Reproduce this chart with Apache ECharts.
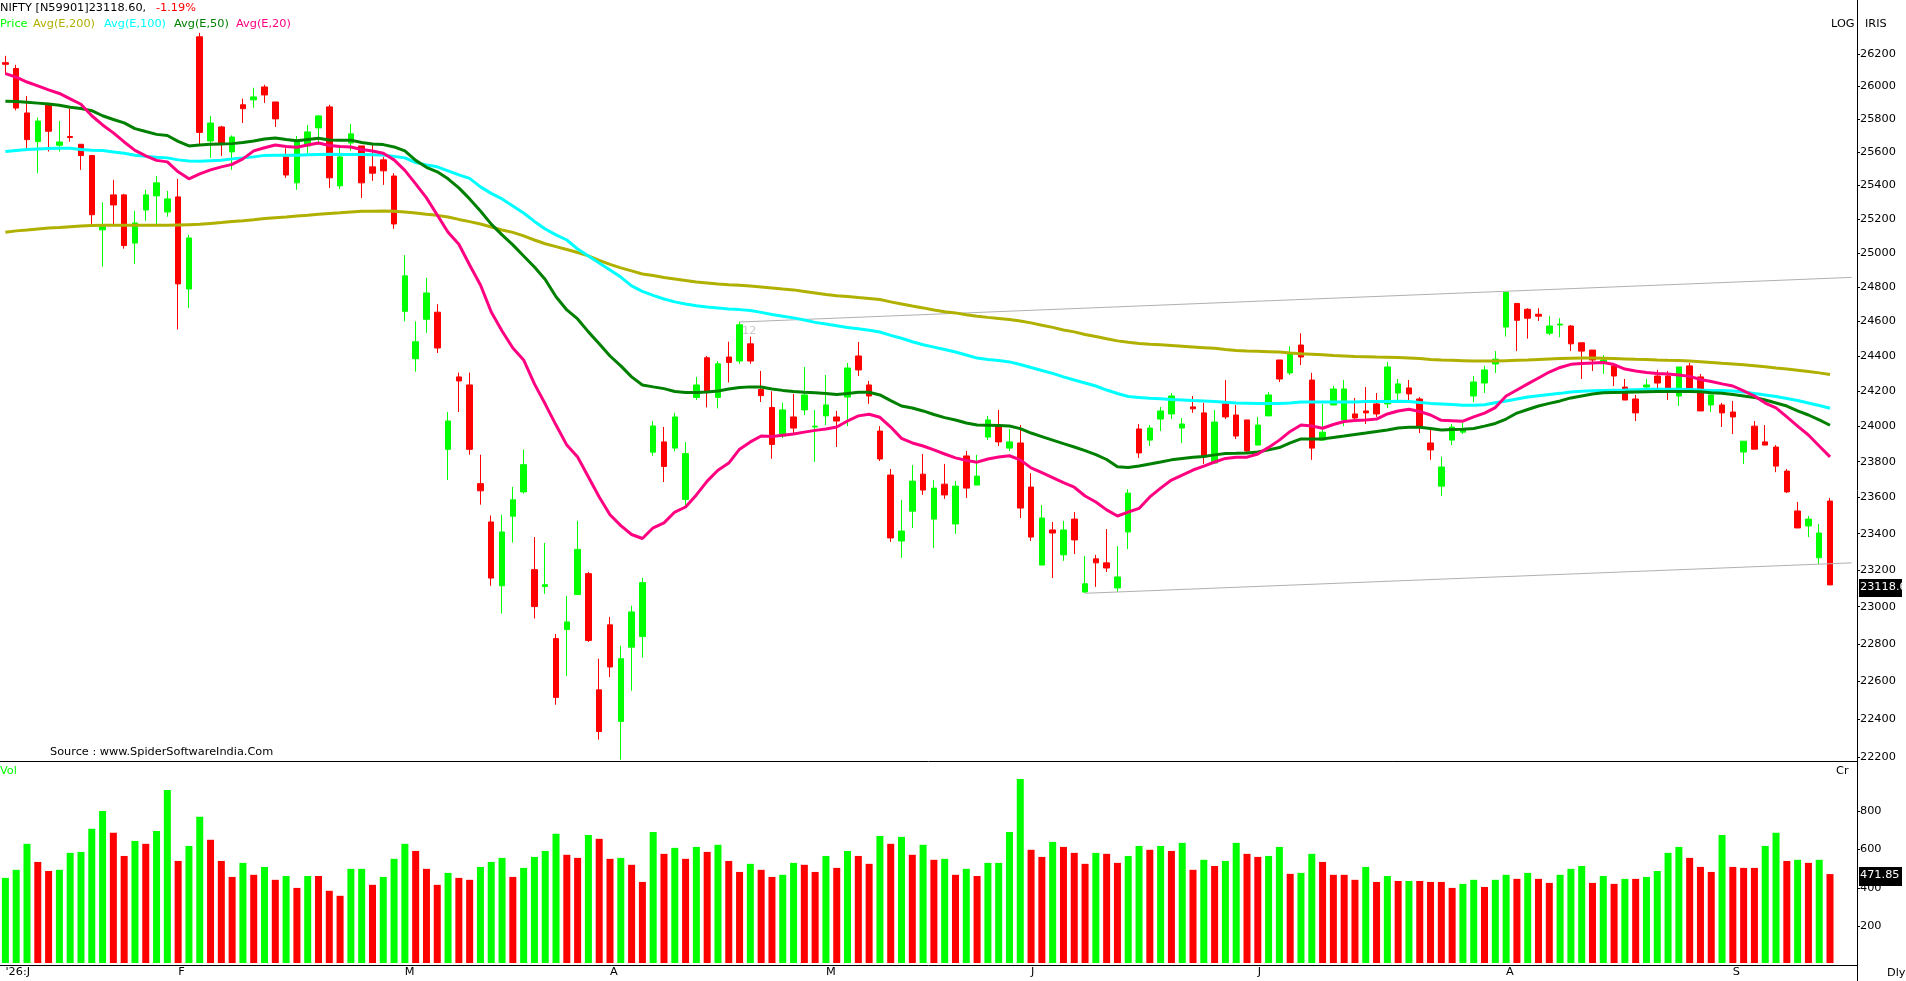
<!DOCTYPE html>
<html>
<head>
<meta charset="utf-8">
<title>NIFTY</title>
<script src="https://cdn.jsdelivr.net/npm/echarts@6/dist/echarts.min.js"></script>
<style>
  html, body { margin: 0; padding: 0; background: #fff; overflow: hidden; }
  #chart { width: 1906px; height: 981px; }
</style>
</head>
<body>
<div id="chart"></div>
<script>
const opens = [
  26146,26110,25838,25664,25888,25642,25695,25648,25580,25136,
  25344,25344,25058,25254,25338,25242,25332,24788,26306,25668,
  25753,25602,25888,25918,25997,25905,25572,25416,25638,25747,
  25875,25398,25656,25638,25512,25554,25457,24658,24384,24612,
  24653,23869,24280,24234,23677,23464,23114,23496,23631,23202,
  23110,22828,22877,23066,23180,22554,22902,22387,22782,22839,
  23853,23911,23876,23589,24163,24390,24163,24394,24371,24470,
  24208,24106,23944,24052,24092,23995,24058,24052,24165,24400,
  24234,23972,23725,23359,23524,23730,23480,23674,23453,23832,
  23669,23938,24006,23876,23905,23658,23227,23420,23283,23480,
  23080,23261,23239,23102,23409,23984,23921,24040,24069,23989,
  24109,24075,23792,24126,24063,24035,23893,24058,24377,24303,
  24463,24262,23921,24120,24035,24069,24086,24126,24126,24188,
  24217,24154,23905,23663,23921,23966,24171,24245,24354,24567,
  24704,24670,24641,24531,24579,24573,24476,24434,24366,24343,
  24222,24154,24222,24285,24285,24171,24343,24280,24120,24120,
  24080,23854,24000,23911,23882,23747,23525,23442,23267,23580
];
const closes = [
  26136,25868,25676,25789,25727,25662,25689,25580,25226,25155,
  25284,25043,25177,25344,25416,25320,24818,25088,25720,25777,
  25648,25692,25864,25936,25948,25802,25463,25662,25723,25820,
  25446,25572,25711,25416,25474,25488,25171,24865,24482,24765,
  24446,24029,24257,23869,23637,23156,23409,23587,23783,23001,
  23120,22514,22918,23313,22818,22334,22676,22720,22972,23131,
  24001,23773,24052,23845,24234,24198,24355,24363,24580,24371,
  24173,23897,24092,23989,24177,24000,24120,24029,24331,24320,
  24171,23815,23376,23414,23691,23641,23652,23614,23663,23652,
  23719,24035,23911,23911,23541,23381,23486,23403,23420,23365,
  23125,23239,23211,23162,23624,23849,23989,24086,24171,24012,
  24098,23827,24023,24052,23944,23860,24006,24177,24268,24417,
  24394,23876,23966,24211,24211,24046,24075,24069,24337,24240,
  24183,24000,23866,23770,23995,23978,24251,24320,24382,24770,
  24606,24618,24630,24573,24584,24470,24428,24377,24377,24285,
  24148,24075,24234,24245,24217,24337,24217,24086,24177,24075,
  24052,23915,23870,23893,23775,23631,23431,23480,23403,23118.6
];
const highs = [
  26188,26133,25942,25810,25899,25789,25864,25648,25580,25300,
  25434,25350,25248,25374,25457,25368,25440,25106,26330,25820,
  25760,25702,25925,25992,26010,25905,25624,25698,25765,25826,
  25888,25632,25771,25638,25644,25572,25474,24987,24600,24853,
  24700,24080,24305,24305,23839,23500,23504,23659,23868,23381,
  23348,22852,23059,23470,23190,22720,22945,22789,23005,23158,
  24029,23995,24075,23911,24280,24400,24371,24482,24598,24512,
  24314,24198,24133,24183,24337,24092,24291,24086,24360,24480,
  24257,24000,23759,23586,23781,23843,23697,23787,23691,23860,
  23838,24058,24092,23984,24006,23736,23558,23464,23470,23519,
  23277,23283,23425,23331,23646,24012,24006,24109,24188,24046,
  24171,24132,24092,24262,24120,24035,24052,24194,24377,24456,
  24531,24303,24126,24228,24262,24160,24222,24188,24366,24268,
  24262,24165,23989,23827,24012,24018,24285,24343,24428,24770,
  24704,24676,24676,24630,24618,24579,24476,24434,24405,24343,
  24268,24177,24268,24320,24314,24337,24360,24297,24177,24132,
  24143,23915,24029,24006,23893,23759,23575,23497,23453,23597
];
const lows = [
  26073,25854,25624,25474,25604,25604,25664,25494,25171,24919,
  25165,25025,24935,25190,25171,25214,24553,24677,25648,25566,
  25578,25494,25777,25870,25899,25753,25446,25374,25590,25644,
  25385,25380,25608,25326,25428,25404,25142,24600,24310,24533,
  24417,23697,24080,23839,23560,23114,22963,23351,23621,22936,
  23070,22475,22628,23065,22810,22291,22622,22186,22549,22726,
  23833,23686,23858,23556,24149,24106,24100,24248,24355,24355,
  24137,23816,23933,23955,24063,23798,24006,23882,24000,24285,
  24126,23803,23354,23266,23431,23614,23320,23592,23398,23597,
  23669,23921,23888,23860,23486,23359,23227,23156,23250,23288,
  23075,23108,23189,23080,23315,23821,23888,23972,24040,23905,
  24075,23787,23792,24040,23927,23849,23893,24058,24251,24291,
  24348,23810,23921,24120,24000,24035,24012,24052,24103,24148,
  24148,23961,23810,23608,23893,23955,24137,24188,24303,24512,
  24428,24500,24602,24520,24508,24428,24268,24314,24297,24228,
  24148,24029,24205,24211,24148,24114,24217,24086,24080,23995,
  23955,23787,23870,23893,23741,23625,23431,23381,23233,23118.6
];

const ema200 = [
  25122,25130,25135,25141,25147,25150,25155,25159,25162,25163,
  25163,25163,25163,25163,25163,25163,25165,25167,25169,25174,
  25179,25185,25190,25196,25204,25208,25212,25218,25222,25228,
  25233,25237,25242,25246,25247,25248,25247,25242,25236,25228,
  25222,25212,25198,25185,25171,25153,25135,25121,25100,25076,
  25054,25037,25020,25002,24982,24956,24932,24912,24894,24876,
  24867,24856,24847,24838,24829,24823,24817,24813,24810,24806,
  24800,24794,24788,24783,24774,24765,24756,24749,24744,24738,
  24733,24727,24713,24701,24689,24678,24666,24656,24649,24638,
  24630,24623,24617,24611,24602,24591,24577,24565,24550,24539,
  24524,24512,24499,24487,24479,24472,24467,24464,24460,24456,
  24452,24448,24444,24437,24431,24428,24427,24425,24423,24417,
  24413,24410,24407,24403,24400,24397,24396,24394,24393,24391,
  24389,24385,24380,24377,24375,24373,24371,24371,24371,24373,
  24375,24377,24380,24383,24385,24387,24389,24389,24387,24385,
  24383,24381,24380,24377,24375,24374,24371,24367,24363,24358,
  24354,24349,24344,24338,24331,24325,24318,24311,24303,24294
];
const ema100 = [
  25604,25610,25616,25620,25622,25624,25624,25616,25612,25610,
  25602,25594,25582,25575,25570,25566,25554,25547,25546,25549,
  25552,25560,25566,25572,25581,25582,25582,25582,25585,25587,
  25588,25587,25586,25586,25585,25584,25575,25566,25538,25524,
  25512,25488,25464,25443,25392,25353,25320,25278,25236,25186,
  25141,25106,25076,25023,24982,24941,24900,24858,24806,24774,
  24751,24730,24713,24701,24691,24683,24678,24672,24668,24663,
  24652,24640,24630,24620,24608,24594,24584,24574,24564,24557,
  24548,24538,24519,24502,24482,24465,24451,24437,24423,24406,
  24388,24380,24374,24366,24351,24334,24317,24300,24280,24262,
  24245,24228,24205,24185,24168,24163,24158,24155,24151,24148,
  24145,24143,24140,24135,24131,24130,24129,24128,24128,24131,
  24137,24137,24137,24137,24137,24137,24139,24140,24140,24141,
  24140,24134,24129,24126,24122,24118,24119,24121,24132,24143,
  24154,24165,24172,24179,24186,24194,24198,24201,24203,24204,
  24205,24207,24209,24210,24210,24210,24208,24205,24203,24202,
  24199,24194,24185,24177,24168,24157,24145,24131,24117,24101
];
const ema50 = [
  25910,25908,25904,25898,25892,25885,25873,25865,25852,25821,
  25798,25778,25743,25725,25708,25701,25666,25638,25644,25648,
  25650,25652,25659,25668,25680,25686,25677,25670,25677,25684,
  25674,25673,25673,25659,25650,25646,25632,25608,25551,25509,
  25482,25440,25386,25320,25248,25170,25106,25047,24982,24917,
  24844,24743,24666,24614,24539,24470,24400,24343,24280,24234,
  24223,24213,24197,24191,24191,24194,24199,24211,24219,24223,
  24222,24211,24203,24197,24193,24190,24185,24180,24185,24192,
  24192,24177,24145,24114,24103,24086,24066,24048,24035,24018,
  24006,24005,24003,24001,23986,23961,23941,23921,23901,23882,
  23862,23839,23812,23772,23767,23776,23787,23798,23810,23818,
  23824,23829,23838,23846,23847,23849,23854,23866,23879,23905,
  23928,23928,23928,23936,23944,23953,23961,23970,23978,23989,
  23993,23993,23987,23978,23981,23983,23987,24000,24015,24040,
  24074,24094,24114,24129,24143,24160,24171,24182,24189,24191,
  24192,24194,24195,24196,24196,24196,24196,24195,24190,24186,
  24179,24171,24163,24148,24131,24114,24086,24063,24035,24005
];
const ema20 = [
  26079,26057,26027,26003,25979,25957,25924,25891,25821,25765,
  25717,25662,25611,25578,25551,25542,25482,25440,25470,25494,
  25512,25527,25560,25608,25627,25644,25635,25630,25644,25656,
  25641,25634,25632,25617,25608,25594,25554,25491,25410,25326,
  25224,25122,25051,24929,24812,24654,24544,24446,24377,24240,
  24125,24006,23893,23826,23714,23603,23504,23444,23395,23373,
  23432,23459,23519,23547,23614,23691,23752,23792,23870,23911,
  23944,23941,23949,23955,23966,23976,23984,23995,24029,24058,
  24067,24050,23995,23931,23905,23888,23866,23843,23821,23807,
  23797,23815,23826,23833,23810,23765,23738,23710,23682,23657,
  23608,23575,23531,23497,23519,23539,23603,23652,23697,23725,
  23753,23775,23798,23818,23824,23825,23843,23880,23921,23970,
  24006,24001,23988,24009,24026,24032,24035,24040,24069,24086,
  24096,24083,24063,24033,24031,24028,24052,24074,24105,24171,
  24205,24240,24274,24308,24334,24352,24357,24360,24363,24351,
  24325,24314,24305,24300,24296,24291,24283,24265,24254,24240,
  24228,24200,24171,24131,24103,24052,24000,23950,23888,23827
];

const volumes = [
  452,494,629,535,488,494,582,587,707,800,
  686,566,644,629,696,909,540,618,769,650,
  540,457,530,468,509,442,462,400,462,462,
  385,359,499,499,416,457,551,629,592,499,
  416,478,452,442,509,535,556,457,504,561,
  592,681,572,556,675,655,551,556,520,431,
  691,577,608,551,613,587,624,540,483,525,
  494,457,468,530,520,483,566,504,592,566,
  525,670,629,665,572,624,546,551,468,499,
  462,530,530,691,966,598,561,639,613,582,
  525,582,577,530,566,618,598,618,592,634,
  494,546,514,540,634,577,561,566,613,473,
  478,577,535,468,468,442,509,431,462,436,
  436,436,431,431,400,421,442,405,442,468,
  447,478,447,426,468,499,514,426,462,421,
  447,447,457,488,582,613,556,509,483,675,
  509,504,504,618,686,540,546,530,546,471.85
];
// G / R per volume bar, it does not always follow the candle colour
const volumeSides = [
  "GGGRRGGGGG","RRGRGGRGGR","RRGRGRGRGR","RRGGRGGGRR",
  "RGRRGGGRGG","GGRRGRRGRR","GRGRGRGRRG","RRGGRRGRGR",
  "RGRGRGRGRG","RGGGGRRGRR","RGRRGGRGRG","RGRGGRRGGR",
  "GGRRRRGRGR","GRRRRGGRGG","RGRRGGGRGR","GRGGGGRRRG",
  "RRRGGRGRGR"
].join("");

const priceTicks = [22200,22400,22600,22800,23000,23200,23400,23600,23800,24000,24200,24400,24600,24800,25000,25200,25400,25600,25800,26000,26200];
const volumeTicks = [200,400,600,800];
const monthIndexes = [0,16,37,56,76,95,116,139,160];
const monthNames = ["'26:J","F","M","A","M","J","J","A","S"];

// [candle index, price] at each end of the two drawn trend lines
const upperTrend = [[68,24596],[171,24856]];
const lowerTrend = [[100,23073],[171,23239]];

const UP = "#00ff00";
const DOWN = "#ff0000";
const OLIVE = "#b0b000";
const CYAN = "#00ffff";
const DARKGREEN = "#008000";
const PINK = "#ff0080";
const TREND = "#b0b0b0";
const FONT = "DejaVu Sans";
const FONT_SIZE = 11.3;

const slots = Array.from({ length: opens.length + 2 }, (_, i) => String(i));

const candleData = opens.map((o, i) => [o, closes[i], lows[i], highs[i]]);
const volumeData = volumes.map((v, i) => ({
  value: v,
  itemStyle: { color: volumeSides[i] === "G" ? UP : DOWN },
}));

const emaLine = (name, data, color) => ({
  name: name,
  type: "line",
  data: data,
  showSymbol: false,
  smooth: false,
  z: 5,
  lineStyle: { color: color, width: 3 },
});

const trendLine = (data) => ({
  type: "line",
  data: data,
  showSymbol: false,
  z: 3,
  lineStyle: { color: TREND, width: 1 },
});

const label = (text, x, y, color, extra) => ({
  type: "text",
  x: x,
  y: y,
  z: 200,
  style: Object.assign(
    { text: text, fill: color, font: FONT_SIZE + "px '" + FONT + "'", textVerticalAlign: "middle" },
    extra || {}
  ),
});

const chart = echarts.init(document.getElementById("chart"));

chart.setOption({
  animation: false,
  backgroundColor: "#ffffff",
  textStyle: { fontFamily: FONT, fontSize: FONT_SIZE },
  grid: [
    { left: 0, top: 0, width: 1857, height: 761 },
    { left: 0, top: 762, width: 1857, height: 201 },
  ],
  xAxis: [
    {
      type: "category",
      gridIndex: 0,
      data: slots,
      boundaryGap: true,
      axisLine: { lineStyle: { color: "#000", width: 1 } },
      axisTick: { show: false },
      axisLabel: { show: false },
      splitLine: { show: false },
    },
    {
      type: "category",
      gridIndex: 1,
      data: slots,
      boundaryGap: true,
      offset: 2,
      axisLine: { lineStyle: { color: "#000", width: 1 } },
      axisTick: { show: false },
      axisLabel: {
        color: "#000",
        fontFamily: FONT,
        fontSize: FONT_SIZE,
        align: "left",
        margin: 2,
        interval: (i) => monthIndexes.includes(i),
        formatter: (v, i) => monthNames[monthIndexes.indexOf(i)] || "",
      },
      splitLine: { show: false },
    },
  ],
  yAxis: [
    {
      type: "log",
      gridIndex: 0,
      position: "right",
      min: 22179,
      max: 26535,
      axisLine: { show: false },
      axisTick: { show: true, length: 3, customValues: priceTicks, lineStyle: { color: "#000" } },
      axisLabel: {
        color: "#000",
        fontFamily: FONT,
        fontSize: FONT_SIZE,
        margin: 3,
        padding: [3, 0, 0, 0],
        customValues: priceTicks,
        formatter: (v) => String(Math.round(v)),
      },
      splitLine: { show: false },
      minorTick: { show: false },
    },
    {
      type: "value",
      gridIndex: 1,
      position: "right",
      min: 10,
      max: 1054,
      axisLine: { show: false },
      axisTick: { show: true, length: 3, customValues: volumeTicks, lineStyle: { color: "#000" } },
      axisLabel: {
        color: "#000",
        fontFamily: FONT,
        fontSize: FONT_SIZE,
        margin: 3,
        customValues: volumeTicks,
      },
      splitLine: { show: false },
    },
  ],
  series: [
    {
      name: "Price",
      type: "candlestick",
      xAxisIndex: 0,
      yAxisIndex: 0,
      data: candleData,
      barWidth: 6,
      z: 2,
      itemStyle: {
        color: UP,
        color0: DOWN,
        borderColor: UP,
        borderColor0: DOWN,
        borderWidth: 1,
      },
    },
    trendLine(upperTrend),
    trendLine(lowerTrend),
    emaLine("Avg(E,200)", ema200, OLIVE),
    emaLine("Avg(E,100)", ema100, CYAN),
    emaLine("Avg(E,50)", ema50, DARKGREEN),
    emaLine("Avg(E,20)", ema20, PINK),
    {
      name: "Vol",
      type: "bar",
      xAxisIndex: 1,
      yAxisIndex: 1,
      data: volumeData,
      barWidth: 7,
    },
  ],
  graphic: [
    {
      type: "line",
      z: 150,
      shape: { x1: 1857.5, y1: 0, x2: 1857.5, y2: 981 },
      style: { stroke: "#000", lineWidth: 1 },
    },
    label("NIFTY [N59901]23118.60,", 0, 8, "#000"),
    label("-1.19%", 156, 8, DOWN),
    label("Price", 0, 24, UP),
    label("Avg(E,200)", 33, 24, OLIVE),
    label("Avg(E,100)", 104, 24, CYAN),
    label("Avg(E,50)", 174, 24, DARKGREEN),
    label("Avg(E,20)", 236, 24, PINK),
    label("LOG", 1831, 24, "#000"),
    label("IRIS", 1865, 24, "#000"),
    label("12", 742, 331, "#c8c8c8"),
    label("Source : www.SpiderSoftwareIndia.Com", 50, 752, "#000"),
    label("Vol", 0, 771, UP),
    label("Cr", 1836, 771, "#000"),
    label("Dly", 1887, 973, "#000"),
    {
      type: "rect",
      z: 180,
      shape: { x: 1859, y: 579, width: 43, height: 18 },
      style: { fill: "#000" },
    },
    label("23118.6", 1860, 587, "#fff"),
    {
      type: "rect",
      z: 180,
      shape: { x: 1859, y: 867, width: 43, height: 19 },
      style: { fill: "#000" },
    },
    label("471.85", 1860, 875, "#fff"),
  ],
});
</script>
</body>
</html>
